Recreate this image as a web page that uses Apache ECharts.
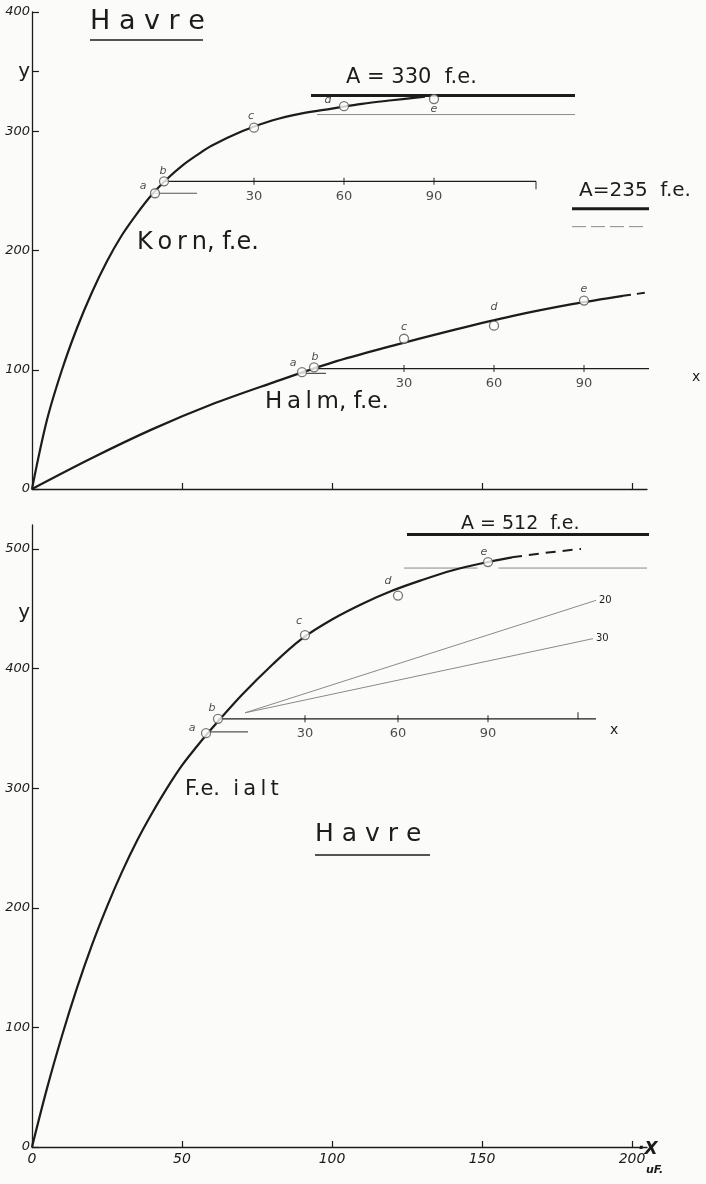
<!DOCTYPE html>
<html><head><meta charset="utf-8">
<script src="https://cdn.jsdelivr.net/npm/echarts@6/dist/echarts.min.js"></script>
<style>html,body{margin:0;padding:0;background:#fbfbf9}#c{width:706px;height:1184px}</style>
</head><body><div id="c"></div>
<script>
// ---------- data ----------
const xTicks = [0, 50, 100, 150, 200];
const topYTicks = [0, 100, 200, 300, 400];
const botYTicks = [0, 100, 200, 300, 400, 500];
const dotNames = ['a', 'b', 'c', 'd', 'e'];
const insetLabels = ['30', '60', '90'];

// Korn (grain)
const kornCurve = [[0,0],[5,58],[10,100],[15,135],[20,165],[25,191],[30,213],[35,231],[40,247],[45,260],[50,271],[55,280],[60,288],[70,300],[80,309],[90,315],[100,319],[110,323],[120,326],[131,329]];
const kornDots = [[41,248],[44,258],[74,303],[104,321],[134,327]];
const kornA = 330;
const kornALine = [93, 181];
const kornRef = 314;
const kornRefLine = [95, 181];
const kornInsetAxis = [[44,258],[168,258]];
const kornInsetTicks = [74, 104, 134];
const kornInsetEnd = 168;
const kornShort = [[41,248],[55,248]];

// Halm (straw)
const halmCurve = [[0,0],[20,26],[40,50],[60,71],[80,89],[100,106],[120,120],[140,133],[160,145],[180,155],[197,162]];
const halmTail = [[197,162],[214,168]];
const halmDots = [[90,98],[94,102],[124,126],[154,137],[184,158]];
const halmA = 235;
const halmALine = [180, 222];
const halmRef = 220;
const halmRefLine = [180, 220];
const halmInsetAxis = [[94,101],[217,101]];
const halmInsetTicks = [124, 154, 184];
const halmShort = [[90,97],[98,97]];
const halmArrow = [[206,174],[206,209]];

// F.e. ialt (total)
const totalCurve = [[0,0],[5,49],[10,93],[15,133],[20,169],[25,201],[30,230],[35,256],[40,279],[45,300],[50,319],[55,335],[60,350],[70,378],[80,403],[90,425],[100,441],[110,454],[120,465],[130,474],[140,482],[150,488],[160,493]];
const totalTail = [[160,493],[172,497],[183,500]];
const totalDots = [[58,346],[62,358],[91,428],[122,461],[152,489]];
const totalA = 512;
const totalALine = [125, 210];
const totalRef = 484;
const totalRefLines = [[124,148.5],[155.5,205]];
const totalInsetAxis = [[62,358],[188,358]];
const totalInsetTicks = [91, 122, 152];
const totalInsetEnd = 182;
const totalShort = [[59,347],[72,347]];
const fanStart = [71, 363];
const fanEnds = [[188,457],[187,425]];
const fanLabels = ['20', '30'];

// ---------- helpers ----------
const INK = '#1c1c1c', GREY = '#8a8a8a';
const FONT = 'DejaVu Sans';
function seg(g, pts, style, extra) {
  return Object.assign({type:'line', xAxisIndex:g, yAxisIndex:g, data:pts, symbol:'none', clip:false, silent:true,
    lineStyle:Object.assign({color:INK, width:1}, style), z:3}, extra || {});
}
function dots(g, pts, offs) {
  return {type:'scatter', xAxisIndex:g, yAxisIndex:g, clip:false, silent:true, z:6,
    symbol:'circle', symbolSize:9,
    itemStyle:{color:'#ffffff', borderColor:'#555', borderWidth:1.3},
    data: pts.map((p,i)=>({value:p, label:{show:true, position:'inside', offset:offs[i], formatter:dotNames[i],
      color:INK, fontSize:11, fontStyle:'italic', fontFamily:FONT}}))};
}
function ticks(g, xs, y, labels, size, off) {
  return {type:'scatter', xAxisIndex:g, yAxisIndex:g, clip:false, silent:true, z:4,
    symbol:'rect', symbolSize:size || [1.2, 7], symbolOffset: off || [0,0],
    itemStyle:{color:INK},
    data: xs.map((x,i)=>({value:[x,y], label:{show: !!labels, position:'bottom', distance:5, formatter: labels ? labels[i] : '',
      color:INK, fontSize:13, fontFamily:FONT}}))};
}
function hline(g, range, y, style) { return seg(g, [[range[0], y],[range[1], y]], style); }
const CURVE = {smooth:0.35, z:5};

const series = [
  // ---- top panel ----
  seg(0, kornCurve, {width:2.2}, CURVE),
  dots(0, kornDots, [[-12,-7],[-1,-10],[-3,-12],[-16,-6],[0,10]]),
  hline(0, kornALine, kornA, {width:3}),
  hline(0, kornRefLine, kornRef, {width:1, color:GREY}),
  seg(0, kornInsetAxis, {width:1.2}),
  ticks(0, kornInsetTicks, kornInsetAxis[0][1], insetLabels),
  ticks(0, [kornInsetEnd], kornInsetAxis[0][1], null, [1.2, 8], [0, 4]),
  seg(0, kornShort, {width:1.2, color:'#555'}),

  seg(0, halmCurve, {width:2.2}, CURVE),
  seg(0, halmTail, {width:2, type:[8,6]}),
  dots(0, halmDots, [[-9,-9],[1,-10],[0,-12],[0,-18],[0,-11]]),
  hline(0, halmALine, halmA, {width:3}),
  hline(0, halmRefLine, halmRef, {width:1, color:GREY, type:[14,5]}),
  seg(0, halmInsetAxis, {width:1.2}),
  ticks(0, halmInsetTicks, halmInsetAxis[0][1], insetLabels),
  seg(0, halmShort, {width:1.2, color:'#555'}),
  Object.assign(seg(0, [], {}), {markLine:{silent:true, symbol:['none','arrow'], symbolSize:[8,10],
    lineStyle:{color:INK, width:1.2, type:'solid'}, label:{show:false},
    data:[[{coord:halmArrow[0]},{coord:halmArrow[1]}]]}}),

  // ---- bottom panel ----
  seg(1, totalCurve, {width:2.2}, CURVE),
  seg(1, totalTail, {width:2, type:[10,7]}),
  dots(1, totalDots, [[-14,-5],[-6,-11],[-6,-14],[-10,-14],[-4,-10]]),
  hline(1, totalALine, totalA, {width:3}),
  hline(1, totalRefLines[0], totalRef, {width:1, color:GREY}),
  hline(1, totalRefLines[1], totalRef, {width:1, color:GREY}),
  seg(1, totalInsetAxis, {width:1.2}),
  ticks(1, totalInsetTicks, totalInsetAxis[0][1], insetLabels),
  ticks(1, [totalInsetEnd], totalInsetAxis[0][1], null, [1.2, 7], [0, -3]),
  seg(1, totalShort, {width:1.2, color:'#555'}),
  ...fanEnds.map((e,i)=>seg(1, [fanStart, e], {width:1, color:GREY}, {
    endLabel:{show:true, formatter:fanLabels[i], fontSize:10, color:INK, fontFamily:FONT, distance:3}})),
];

function yAxis(g, max, tickVals, labelVals, yLabelVal) {
  return {type:'value', gridIndex:g, min:0, max:max, interval:100, splitLine:{show:false},
    axisLine:{show:true, lineStyle:{color:INK, width:1.3}},
    axisTick:{show:true, inside:true, length:7, customValues:tickVals, lineStyle:{color:INK, width:1.2}},
    axisLabel:{show:true, customValues:labelVals, margin:2, color:INK, fontSize:13, fontStyle:'italic', fontFamily:FONT,
      formatter:v=> v===yLabelVal ? '{y|y}' : String(v), rich:{y:{fontSize:20, fontFamily:FONT, fontStyle:'normal', color:INK}}}};
}
function xAxis(g, showLabels) {
  return {type:'value', gridIndex:g, min:0, max:205, interval:50, splitLine:{show:false},
    axisLine:{show:true, onZero:false, lineStyle:{color:INK, width:1.3}},
    axisTick:{show:true, inside:true, length:6, customValues: showLabels ? xTicks : xTicks.slice(1), lineStyle:{color:INK, width:1.2}},
    axisLabel:{show:showLabels, customValues:xTicks, margin:5, color:INK, fontSize:14, fontStyle:'italic', fontFamily:FONT}};
}

const T = (x, y, text, size, extra) => ({type:'text', left:x, top:y, style:Object.assign({text:text, fill:INK, font:`${size}px "${FONT}"`}, extra||{}), z:10});
const L = (x1, y1, x2, y2, w) => ({type:'line', shape:{x1,y1,x2,y2}, style:{stroke:INK, lineWidth:w||1.5}, z:10});
const TS = '\u2009';

const option = {
  backgroundColor:'#fbfbf9',
  animation:false,
  grid:[{left:32, top:12, width:615, height:477}, {left:32, top:525, width:615, height:622}],
  xAxis:[xAxis(0,false), xAxis(1,true)],
  yAxis:[yAxis(0, 400, [0,100,200,300,350,400], [0,100,200,300,350,400], 350),
         yAxis(1, 520, botYTicks, [0,100,200,300,400,447,500], 447)],
  series: series,
  graphic:[
    T(90, 8, 'H a v r e', 27),
    L(90, 40, 203, 40, 1.6),
    T(346, 67, 'A = 330  f.e.', 21),
    T(579, 181, 'A=235  f.e.', 20),
    T(461, 515, 'A = 512  f.e.', 19),
    T(137, 231, ['K','o','r','n, f.e.'].join(TS), 24),
    T(265, 391, ['H','a','l','m, f.e.'].join(TS), 23),
    T(692, 370, 'x', 14),
    T(185, 779, 'F.e.  ' + ['i','a','l','t'].join(TS), 21),
    T(610, 723, 'x', 14),
    T(315, 822, 'H a v r e', 25),
    L(315, 855, 430, 855, 1.6),
    T(638, 1141, '·X', 17, {font:`italic bold 17px "${FONT}"`}),
    T(646, 1165, 'uF.', 11, {font:`italic bold 11px "${FONT}"`}),
  ]
};
echarts.init(document.getElementById('c')).setOption(option);
</script>
</body></html>
